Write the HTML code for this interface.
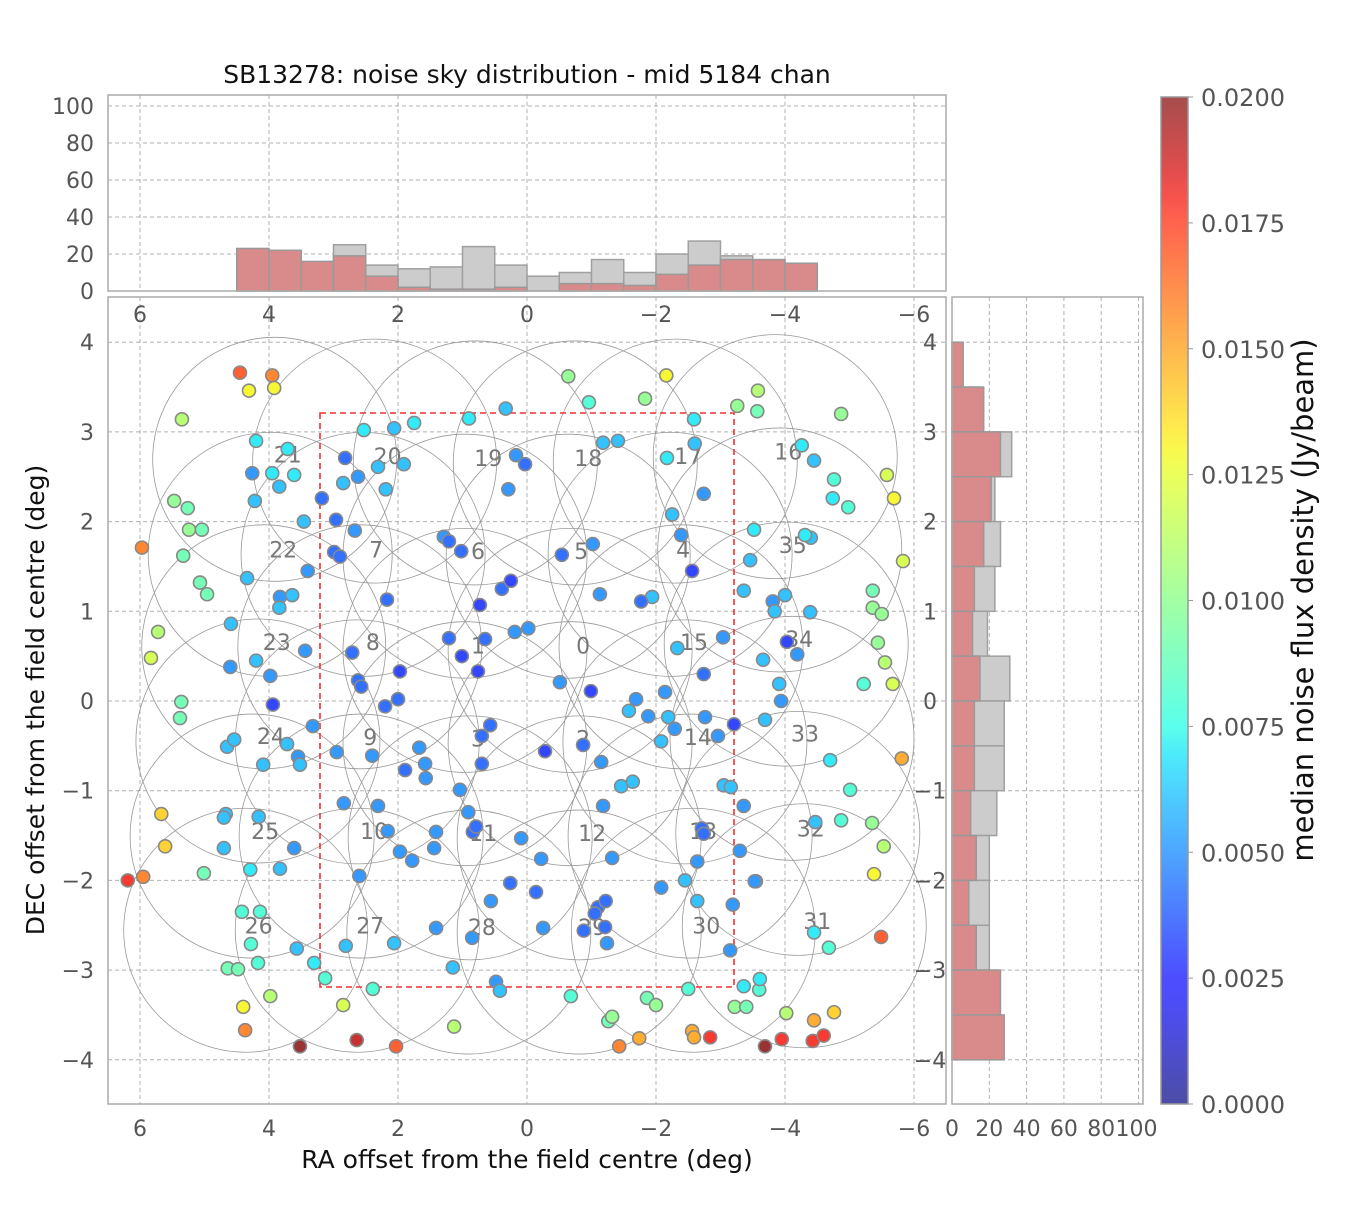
<!DOCTYPE html>
<html><head><meta charset="utf-8">
<style>
html,body{margin:0;padding:0;background:#fff;}
svg text{font-family:"DejaVu Sans","Liberation Sans",sans-serif;}
</style></head>
<body>
<svg id="chart" xmlns="http://www.w3.org/2000/svg" width="1350" height="1200" viewBox="0 0 1350 1200">
<rect x="0" y="0" width="1350" height="1200" fill="#fff"/>
<g id="g-grid"></g>
<g id="g-hist"></g>
<g id="g-beams"></g>
<rect x="320" y="413" width="414" height="574" fill="none" stroke="#f03030" stroke-width="1.6" stroke-dasharray="6,4" id="box"/>
<g id="g-points"></g>
<g id="g-axes"></g>
<defs><linearGradient id="jetgrad" x1="0" y1="1" x2="0" y2="0"></linearGradient></defs>
<rect x="1161" y="97" width="27" height="1007" fill="url(#jetgrad)" stroke="#999" stroke-width="1.5"/>
<text x="527" y="83" text-anchor="middle" font-size="25" fill="#111">SB13278: noise sky distribution - mid 5184 chan</text>
<text x="527" y="1168" text-anchor="middle" font-size="25" fill="#111">RA offset from the field centre (deg)</text>
<text x="0" y="0" transform="translate(44,700) rotate(-90)" text-anchor="middle" font-size="25" fill="#111">DEC offset from the field centre (deg)</text>
<text x="0" y="0" transform="translate(1313,600) rotate(-90)" text-anchor="middle" font-size="29" fill="#111">median noise flux density (Jy/beam)</text>
</svg>
<script>
// ---- data ----
const raTicks = [6,4,2,0,-2,-4,-6];
const decTicks = [4,3,2,1,0,-1,-2,-3,-4];
const histTicks = [0,20,40,60,80,100];
const cbTicks = [0,0.0025,0.005,0.0075,0.01,0.0125,0.015,0.0175,0.02];
const raBinEdgesStart = 4.5;
const binWidth = 0.5;
const raHistAll = [18,17,12,25,14,12,13,24,14,8,10,17,10,20,27,19,16,12];
const raHistSel = [23,22,16,19,8,2,1,1,2,0,4,4,3,9,14,17,17,15];
const decBinStart = 4;
const decHistAll = [5,15,32,23,26,23,19,31,28,28,24,20,20,20,25,26];
const decHistSel = [6,17,26,21,17,12,11,15,12,12,10,13,9,13,26,28];
const beamIds = [21,20,19,18,17,16, 22,7,6,5,4,35, 23,8,1,0,15,34, 24,9,3,2,14,33, 25,10,11,12,13,32, 26,27,28,29,30,31];
const beamRa = [3.71,2.16,0.60,-0.95,-2.50,-4.05, 3.78,2.34,0.76,-0.84,-2.42,-4.12, 3.88,2.39,0.76,-0.87,-2.59,-4.22, 3.97,2.43,0.76,-0.87,-2.65,-4.31, 4.06,2.37,0.68,-1.01,-2.73,-4.40, 4.16,2.43,0.70,-1.01,-2.78,-4.50];
const beamDec = [2.75,2.73,2.71,2.71,2.73,2.78, 1.69,1.69,1.67,1.67,1.69,1.74, 0.66,0.66,0.62,0.62,0.66,0.69, -0.39,-0.40,-0.42,-0.42,-0.40,-0.36, -1.45,-1.45,-1.47,-1.47,-1.45,-1.42, -2.50,-2.50,-2.52,-2.52,-2.50,-2.45];
const ptRa = [4.45,3.95,4.31,3.92,5.35,4.20,3.71,4.26,3.95,3.61,3.84,4.22,5.47,5.26,5.24,5.04,3.46,3.18,2.96,2.85,2.82,2.53,2.31,2.62,2.19,2.06,1.91,1.75,0.90,0.33,0.17,0.03,0.29,-0.64,-0.96,-1.18,-1.41,-1.83,-2.16,-2.59,-2.60,-2.17,-2.74,-3.26,-3.58,-3.57,-4.26,-4.45,-4.76,-4.74,-4.87,-4.98,-5.58,-5.69,-5.83,5.97,
5.33,5.07,4.96,5.72,4.34,4.59,3.83,3.84,3.64,3.40,2.99,2.90,2.67,2.17,1.29,1.21,1.02,0.39,0.25,-0.54,-1.02,-1.13,-1.94,-2.25,-2.39,-2.56,-3.52,-3.46,-3.36,-3.81,-3.84,-4.00,-4.40,-4.31,-4.39,-5.36,-5.36,-5.50,
4.60,4.20,3.98,3.44,2.71,2.62,2.57,1.97,1.21,1.01,0.76,0.65,0.19,-0.02,-0.51,-0.99,-1.69,-1.88,-2.14,-2.33,-2.74,-3.04,-3.66,-3.91,-4.03,-4.19,-3.94,-3.69,-5.22,-5.55,-5.67,-5.44,5.83,5.36,5.38,
3.94,3.32,3.72,3.55,3.52,4.65,4.54,4.09,2.95,2.40,2.20,2.00,1.89,1.67,1.58,1.57,1.04,0.57,0.70,0.70,-0.28,-0.87,-1.15,-1.58,-2.08,-2.19,-2.29,-2.76,-2.96,-3.21,-3.05,-3.36,-3.16,-4.70,-5.01,-1.46,-1.64,-1.18,-5.81,
5.67,4.67,4.70,4.16,2.84,2.31,2.16,1.97,1.78,1.44,1.41,0.84,0.91,0.79,0.09,-0.22,-1.32,-2.71,-2.74,-2.64,-3.30,-3.55,-4.47,-4.87,-5.35,-5.53,-5.38,5.61,5.01,4.70,
6.19,5.95,4.29,3.83,3.61,2.60,0.56,0.26,-0.14,-1.10,-1.22,-1.05,-1.21,-0.88,-1.24,-2.08,-2.45,-2.64,-3.19,-3.15,-3.53,-4.45,-4.68,-5.49,4.42,4.14,4.28,4.17,4.64,4.48,3.98,4.40,4.37,3.52,2.64,2.03,2.85,2.81,2.06,1.41,0.85,1.15,0.48,0.42,-0.25,2.39,3.13,3.30,3.57,1.13,-0.68,-1.26,-1.32,-1.43,-1.74,-1.86,-2.00,-2.50,-2.56,-2.59,-2.84,-3.22,-3.40,-3.60,-3.61,-3.36,-4.02,-4.45,-4.76,-3.95,-3.69,-4.43,-4.60,-1.77,0.73];
const ptDec = [3.66,3.63,3.46,3.49,3.14,2.90,2.81,2.54,2.54,2.52,2.39,2.23,2.23,2.15,1.91,1.91,2.00,2.26,2.02,2.43,2.71,3.02,2.61,2.50,2.36,3.04,2.64,3.10,3.15,3.26,2.74,2.64,2.36,3.62,3.33,2.88,2.90,3.37,3.63,3.14,2.87,2.71,2.31,3.29,3.46,3.23,2.85,2.68,2.47,2.26,3.20,2.16,2.52,2.26,1.56,1.71,
1.62,1.32,1.19,0.77,1.37,0.86,1.16,1.04,1.18,1.45,1.66,1.61,1.90,1.13,1.83,1.78,1.67,1.25,1.34,1.63,1.75,1.19,1.16,2.08,1.85,1.45,1.91,1.57,1.23,1.11,1.00,1.18,1.82,1.85,0.99,1.23,1.04,0.97,
0.38,0.45,0.28,0.56,0.54,0.23,0.16,0.33,0.70,0.50,0.33,0.69,0.77,0.81,0.21,0.11,0.02,-0.17,0.10,0.59,0.30,0.71,0.46,0.19,0.66,0.52,0.00,-0.21,0.19,0.43,0.19,0.65,0.48,-0.01,-0.19,
-0.04,-0.28,-0.48,-0.62,-0.71,-0.51,-0.43,-0.71,-0.57,-0.61,-0.06,0.02,-0.77,-0.52,-0.70,-0.86,-0.99,-0.27,-0.39,-0.70,-0.56,-0.49,-0.68,-0.11,-0.45,-0.18,-0.31,-0.18,-0.39,-0.26,-0.94,-1.17,-0.96,-0.66,-0.99,-0.95,-0.90,-1.17,-0.64,
-1.26,-1.26,-1.30,-1.29,-1.14,-1.17,-1.45,-1.68,-1.78,-1.64,-1.46,-1.46,-1.24,-1.40,-1.53,-1.76,-1.75,-1.42,-1.48,-1.79,-1.67,-2.01,-1.35,-1.33,-1.36,-1.62,-1.93,-1.62,-1.92,-1.64,
-2.00,-1.96,-1.88,-1.87,-1.64,-1.95,-2.23,-2.03,-2.13,-2.30,-2.23,-2.37,-2.52,-2.56,-2.70,-2.08,-2.00,-2.23,-2.27,-2.78,-2.01,-2.58,-2.75,-2.63,-2.35,-2.35,-2.71,-2.92,-2.98,-2.99,-3.29,-3.41,-3.67,-3.85,-3.78,-3.85,-3.39,-2.73,-2.70,-2.53,-2.64,-2.97,-3.13,-3.23,-2.53,-3.21,-3.09,-2.92,-2.76,-3.63,-3.29,-3.57,-3.52,-3.85,-3.76,-3.31,-3.39,-3.21,-3.68,-3.75,-3.75,-3.41,-3.41,-3.22,-3.10,-3.18,-3.48,-3.56,-3.47,-3.77,-3.85,-3.79,-3.73,1.11,1.07];
const ptNoiseMJy = [17,16,13,13,11,7,7,5,7,7,6,6,10,9,10,9,6,4,4,6,4,7,6,5,6,6,6,7,7,6,5,4,5,10,8,6,6,10,13,7,6,7,5,10,11,9,7,6,8,7,10,8,12,13,12,16,
9,9,9,11,6,6,5,6,6,5,4,4,5,4,5,4,4,4,3,4,5,5,6,6,5,3,7,6,6,5,6,6,6,7,6,9,10,10,
5,6,5,5,4,4,4,3,4,3,3,4,5,5,5,3,5,5,5,6,4,5,6,6,3,5,5,6,8,11,12,10,12,9,9,
3,5,6,5,6,6,6,6,5,5,4,4,4,5,5,5,5,4,4,4,3,4,5,6,6,6,5,5,5,3,6,5,6,7,8,6,6,5,15,
14,6,6,6,5,5,5,5,5,5,5,4,5,4,5,5,5,4,4,5,5,5,6,8,10,11,13,14,9,6,
18,16,7,6,5,5,5,4,4,4,4,4,4,4,5,5,6,6,5,5,5,7,8,17,8,8,8,8,9,9,11,13,16,20,19,17,12,6,6,5,5,6,5,6,5,8,8,7,6,11,8,9,10,16,15,9,10,8,15,15,18,10,9,8,7,7,11,15,14,18,20,18,18,4,3];

// ---- scales ----
const X = ra => 527 - ra*64.5;
const Y = dec => 701 - dec*89.7;
const HT = c => 291 - c*1.85;      // top hist
const HR = c => 952 + c*1.865;     // right hist
const CB = v => 1104 - (v/0.02)*1007;
const NS = 'http://www.w3.org/2000/svg';
function mk(tag, attrs, parent){const e=document.createElementNS(NS,tag);for(const k in attrs)e.setAttribute(k,attrs[k]);parent.appendChild(e);return e;}
function interp(x, pts){for(let i=0;i<pts.length-1;i++){const [x0,y0]=pts[i],[x1,y1]=pts[i+1];if(x<=x1)return y0+(y1-y0)*(x-x0)/(x1-x0);}return pts[pts.length-1][1];}
function jet(t){t=Math.max(0,Math.min(1,t));
 const r=interp(t,[[0,0],[0.35,0],[0.66,1],[0.89,1],[1,0.5]]);
 const g=interp(t,[[0,0],[0.125,0],[0.375,1],[0.64,1],[0.91,0],[1,0]]);
 const b=interp(t,[[0,0.5],[0.11,1],[0.34,1],[0.65,0],[1,0]]);
 return [r,g,b];}
function jetA(t,a){const c=jet(t);return 'rgb('+c.map(v=>Math.round(255*(v*a+(1-a)))).join(',')+')';}

const gGrid=document.getElementById('g-grid'), gHist=document.getElementById('g-hist'), gB=document.getElementById('g-beams'), gP=document.getElementById('g-points'), gA=document.getElementById('g-axes');
const GS={stroke:'#b0b0b0','stroke-width':1,'stroke-dasharray':'4,3',fill:'none'};

// grids
raTicks.forEach(t=>{
 const l1=mk('line',Object.assign({x1:X(t),x2:X(t),y1:297,y2:1104},GS),gGrid);
 
 const l2=mk('line',Object.assign({x1:X(t),x2:X(t),y1:95,y2:291},GS),gGrid);
 
});
decTicks.forEach(t=>{
 const l1=mk('line',Object.assign({x1:108,x2:946,y1:Y(t),y2:Y(t)},GS),gGrid);
 
 const l2=mk('line',Object.assign({x1:952,x2:1143,y1:Y(t),y2:Y(t)},GS),gGrid);
 
});
histTicks.forEach(t=>{
 const l1=mk('line',Object.assign({x1:108,x2:946,y1:HT(t),y2:HT(t)},GS),gGrid);
 
 const l2=mk('line',Object.assign({x1:HR(t),x2:HR(t),y1:297,y2:1104},GS),gGrid);
 
});

// histograms
function topBars(arr,fill,stroke,name){arr.forEach((c,i)=>{const r0=raBinEdgesStart-i*binWidth,r1=r0-binWidth;
 const r=mk('rect',{x:X(r0),y:HT(c),width:X(r1)-X(r0),height:HT(0)-HT(c),fill:fill,stroke:stroke,'stroke-width':1.5},gHist);
 });}
function rightBars(arr,fill,stroke,name){arr.forEach((c,i)=>{const d0=decBinStart-i*binWidth,d1=d0-binWidth;
 const r=mk('rect',{x:HR(0),y:Y(d0),width:HR(c)-HR(0),height:Y(d1)-Y(d0),fill:fill,stroke:stroke,'stroke-width':1.5},gHist);
 });}
topBars(raHistAll,'#cccccc','#a0a0a0','ra-hist-bar-all');
topBars(raHistSel,'#d98a8a','#999','ra-hist-bar-selected');
rightBars(decHistAll,'#cccccc','#a0a0a0','dec-hist-bar-all');
rightBars(decHistSel,'#d98a8a','#999','dec-hist-bar-selected');

// beams
beamIds.forEach((id,i)=>{
 const cx=X(beamRa[i])-13, cy=Y(beamDec[i])+5;
 const c=mk('circle',{cx:cx,cy:cy,r:122,fill:'none',stroke:'#999','stroke-width':0.8},gB);
 
 const t=mk('text',{x:X(beamRa[i]),y:Y(beamDec[i])+8,'text-anchor':'middle','font-size':22,fill:'#777'},gB);
 t.textContent=String(id);
 
});

// points
ptRa.forEach((ra,i)=>{
 const v=ptNoiseMJy[i]/1000;
 const c=mk('circle',{cx:X(ra),cy:Y(ptDec[i]),r:6.5,fill:jetA(v/0.02,0.8),stroke:'#888','stroke-width':1.6},gP);
 
});

// axes frames
[[108,297,838,807,'main-axes-frame'],[108,95,838,196,'top-hist-frame'],[952,297,191,807,'right-hist-frame']].forEach(f=>{
 const r=mk('rect',{x:f[0],y:f[1],width:f[2],height:f[3],fill:'none',stroke:'#aaa','stroke-width':1.5},gA);
 
});
const TS={'font-size':22,fill:'#555'};
function txt(x,y,s,anchor,name,fs){const t=mk('text',Object.assign({x:x,y:y,'text-anchor':anchor},TS),gA);if(fs)t.setAttribute('font-size',fs);t.textContent=s;return t;}
const fmt=v=>(v<0?'\u2212':'')+Math.abs(v);
raTicks.forEach(t=>{txt(X(t),1136,fmt(t),'middle','x-tick-label');txt(X(t),322,fmt(t),'middle','x-tick-label-top');});
decTicks.forEach(t=>{txt(94,Y(t)+8,fmt(t),'end','y-tick-label');txt(930,Y(t)+8,fmt(t),'middle','y-tick-label-right');});
histTicks.forEach(t=>{txt(94,HT(t)+8,String(t),'end','top-hist-y-tick-label');txt(HR(t)+(t===100?-2:0),1136,String(t),'middle','right-hist-x-tick-label');});
cbTicks.forEach(t=>{txt(1201,CB(t)+9,t.toFixed(4),'start','colorbar-tick-label',24);
 const l=mk('line',{x1:1188,x2:1193,y1:CB(t),y2:CB(t),stroke:'#999','stroke-width':1},gA);});

// colorbar gradient
const grad=document.getElementById('jetgrad');
for(let i=0;i<=40;i++){const s=mk('stop',{offset:(i/40),'stop-color':jetA(i/40,0.7)},grad);}
</script>
</body></html>
